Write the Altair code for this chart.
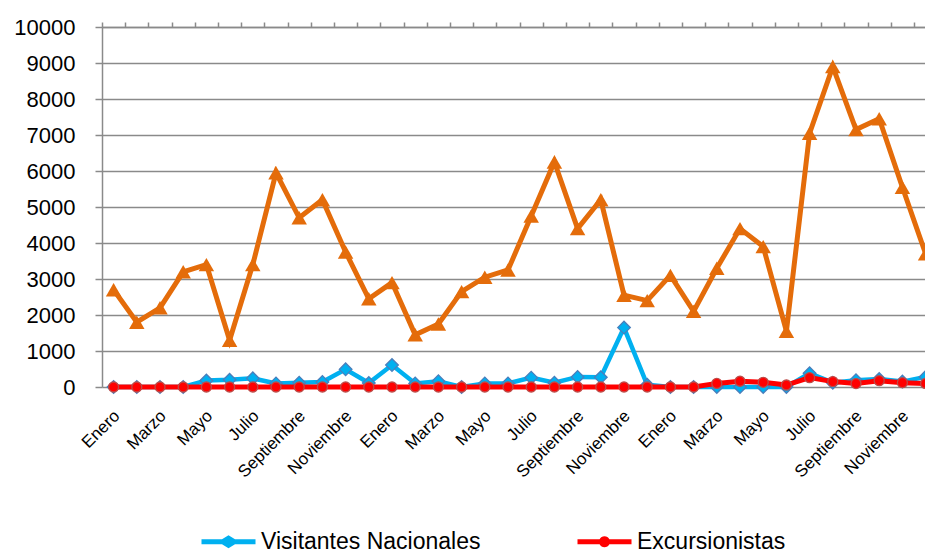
import altair as alt
import pandas as pd

# ---- data ----
months = ["Enero", "Febrero", "Marzo", "Abril", "Mayo", "Junio", "Julio",
          "Agosto", "Septiembre", "Octubre", "Noviembre", "Diciembre"]
month_index = list(range(36))

serie_names = ["Visitantes Nacionales", "Excursionistas", "Visitantes Extranjeros"]

nacionales = [0, 0, 0, 0, 180, 200, 240, 100, 120, 140, 490, 110,
              610, 100, 160, 0, 100, 100, 260, 120, 280, 270, 1650, 60,
              0, 0, 0, 0, 0, 0, 380, 120, 190, 220, 150, 280]
excursionistas = [0, 0, 0, 0, 0, 0, 0, 0, 0, 0, 0, 0,
                  0, 0, 0, 0, 0, 0, 0, 0, 0, 0, 0, 0,
                  0, 0, 100, 160, 130, 55, 260, 150, 95, 175, 120, 100]
extranjeros = [2700, 1800, 2200, 3200, 3400, 1300, 3400, 5950, 4700, 5200, 3750, 2450,
               2900, 1450, 1750, 2650, 3050, 3250, 4750, 6250, 4400, 5200, 2550, 2400,
               3100, 2100, 3300, 4400, 3900, 1550, 7050, 8900, 7150, 7450, 5550, 3700]

y_ticks = [0, 1000, 2000, 3000, 4000, 5000, 6000, 7000, 8000, 9000, 10000]

# ---- styles ----
BLUE = "#00B0F0"
BLUE_EDGE = "#4A7EBB"
RED = "#FF0000"
RED_EDGE = "#BE4B48"
ORANGE = "#E46C0A"
GRAY = "#8A8A8A"
FONT = "Liberation Sans"

rows = []
for name, vals in zip(serie_names, [nacionales, excursionistas, extranjeros]):
    for i, v in zip(month_index, vals):
        rows.append({"serie": name, "i": i, "v": v})
df = pd.DataFrame(rows)

PLOT_W = 823
STEP = 23.2
xscale = alt.Scale(domain=[-0.5, -0.5 + PLOT_W / STEP], nice=False, zero=False)
yscale = alt.Scale(domain=[0, 10000], nice=False, zero=True)

label_expr = "[" + ",".join("'%s'" % m for m in months) + "][datum.value % 12]"

x_label_axis = alt.Axis(
    values=month_index[::2], labelExpr=label_expr, labelAngle=-45,
    labelAlign="right", labelBaseline="middle", labelFont=FONT,
    labelFontSize=17, labelColor="black", labelPadding=26, labelOffset=3,
    ticks=False, tickSize=0, domain=False, grid=False, title=None,
    labelOverlap=False, labelFlush=False,
)
y_axis = alt.Axis(
    values=y_ticks, format="d", grid=True, gridColor=GRAY, gridWidth=1.5,
    domainColor=GRAY, domainWidth=1.5, tickColor=GRAY, tickWidth=1.5,
    tickSize=7, labelFont=FONT, labelFontSize=22, labelColor="black",
    labelPadding=20, title=None,
)

base = alt.Chart(df).encode(
    x=alt.X("i:Q", scale=xscale, axis=x_label_axis),
    y=alt.Y("v:Q", scale=yscale, axis=y_axis),
)

def sel(name):
    return base.transform_filter(alt.datum.serie == name)

orange_line = sel("Visitantes Extranjeros").mark_line(color=ORANGE, strokeWidth=5)
orange_pts = sel("Visitantes Extranjeros").mark_point(
    shape="triangle-up", filled=True, size=240, color=ORANGE, opacity=1)
blue_line = sel("Visitantes Nacionales").mark_line(color=BLUE, strokeWidth=4.5)
blue_pts = sel("Visitantes Nacionales").mark_point(
    shape="diamond", filled=True, size=160, fill=BLUE, stroke=BLUE_EDGE,
    strokeWidth=1.3, opacity=1)
red_line = sel("Excursionistas").mark_line(color=RED, strokeWidth=5)
red_pts = sel("Excursionistas").mark_point(
    shape="circle", filled=True, size=100, fill=RED, stroke=RED_EDGE,
    strokeWidth=1.3, opacity=1)

main = alt.layer(orange_line, orange_pts, blue_line, blue_pts, red_line, red_pts)

# axis with tick marks between categories (Excel style)
tick_axis = alt.Axis(
    values=[k - 0.5 for k in range(37)], labels=False, ticks=True, tickSize=5,
    tickColor=GRAY, tickWidth=1.5, domain=True, domainColor=GRAY,
    domainWidth=1.5, grid=False, title=None,
)
tick_layer = alt.Chart(df).transform_filter("false").mark_point(opacity=0).encode(
    x=alt.X("i:Q", scale=xscale, axis=tick_axis)
)

# legend (line + marker symbols)
legend_names = ["Visitantes Nacionales", "Excursionistas"]
diamond_path = ("M-2.7,-0.25 L-0.65,-0.25 L0,-0.65 L0.65,-0.25 L2.7,-0.25 "
                "L2.7,0.25 L0.65,0.25 L0,0.65 L-0.65,0.25 L-2.7,0.25 Z")
circle_path = ("M-2.7,-0.25 L-0.49,-0.25 A0.55,0.55 0 0,1 0.49,-0.25 L2.7,-0.25 "
               "L2.7,0.25 L0.49,0.25 A0.55,0.55 0 0,1 -0.49,0.25 L-2.7,0.25 Z")
legend_df = pd.DataFrame({"serie": legend_names})
leg = alt.Legend(
    title=None, orient="none", legendX=115, legendY=503, direction="horizontal",
    symbolSize=400, symbolStrokeWidth=0, labelOffset=21, columnPadding=96,
    labelFont=FONT, labelFontSize=23, labelColor="black", labelLimit=400,
)
legend_layer = alt.Chart(legend_df).transform_filter("false").mark_point(
    filled=True, opacity=1).encode(
    color=alt.Color("serie:N", scale=alt.Scale(domain=legend_names, range=[BLUE, RED]), legend=leg),
    shape=alt.Shape("serie:N", scale=alt.Scale(domain=legend_names, range=[diamond_path, circle_path]), legend=leg),
)

chart = alt.layer(main, tick_layer, legend_layer).resolve_scale(
    x="independent"
).properties(
    width=PLOT_W, height=360,
    padding={"left": 94, "top": 19, "right": 0, "bottom": 167},
    autosize=alt.AutoSizeParams(type="none"),
    background="white",
).configure_view(strokeWidth=0)

chart.save("out.html", embed_options={"renderer": "svg", "actions": False})
